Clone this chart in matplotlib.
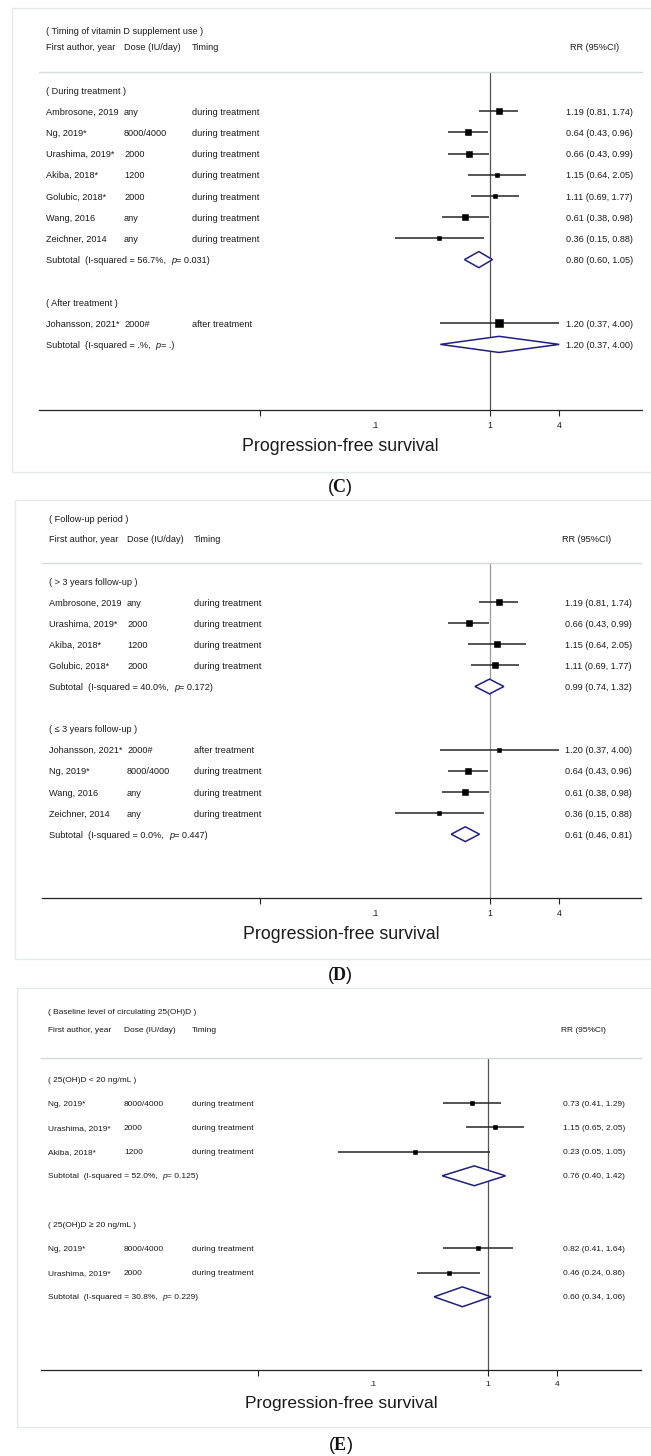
import matplotlib
matplotlib.use("Agg")
import matplotlib.pyplot as plt
from matplotlib import transforms as mtransforms
from matplotlib.patches import Rectangle, Polygon

plt.rcParams['font.family'] = ['Liberation Sans', 'DejaVu Sans']
plt.rcParams['mathtext.fontset'] = 'custom'
plt.rcParams['mathtext.bf'] = 'Liberation Serif:bold'
plt.rcParams['mathtext.rm'] = 'Liberation Serif'

W, H, DPI = 651, 1456, 100

# ---------------- Panel C: timing of vitamin D supplement use ----------------
c_title = "( Timing of vitamin D supplement use )"
c_groups = ["( During treatment )", "( After treatment )"]
c_authors = [["Ambrosone, 2019", "Ng, 2019*", "Urashima, 2019*", "Akiba, 2018*",
              "Golubic, 2018*", "Wang, 2016", "Zeichner, 2014"],
             ["Johansson, 2021*"]]
c_dose = [["any", "8000/4000", "2000", "1200", "2000", "any", "any"], ["2000#"]]
c_timing = [["during treatment"] * 7, ["after treatment"]]
c_rr = [[1.19, 0.64, 0.66, 1.15, 1.11, 0.61, 0.36], [1.20]]
c_lo = [[0.81, 0.43, 0.43, 0.64, 0.69, 0.38, 0.15], [0.37]]
c_hi = [[1.74, 0.96, 0.99, 2.05, 1.77, 0.98, 0.88], [4.00]]
c_weight = [[16.5, 16.0, 16.0, 11.0, 13.5, 15.0, 4.0], [100.0]]
c_sub_i2 = ["56.7", None]
c_sub_p = ["0.031", None]
c_sub_rr = [0.80, 1.20]
c_sub_lo = [0.60, 0.37]
c_sub_hi = [1.05, 4.00]

# ---------------- Panel D: follow-up period ----------------
d_title = "( Follow-up period )"
d_groups = ["( > 3 years follow-up )", "( \u2264 3 years follow-up )"]
d_authors = [["Ambrosone, 2019", "Urashima, 2019*", "Akiba, 2018*", "Golubic, 2018*"],
             ["Johansson, 2021*", "Ng, 2019*", "Wang, 2016", "Zeichner, 2014"]]
d_dose = [["any", "2000", "1200", "2000"], ["2000#", "8000/4000", "any", "any"]]
d_timing = [["during treatment"] * 4,
            ["after treatment", "during treatment", "during treatment", "during treatment"]]
d_rr = [[1.19, 0.66, 1.15, 1.11], [1.20, 0.64, 0.61, 0.36]]
d_lo = [[0.81, 0.43, 0.64, 0.69], [0.37, 0.43, 0.38, 0.15]]
d_hi = [[1.74, 0.99, 2.05, 1.77], [4.00, 0.96, 0.98, 0.88]]
d_weight = [[30.0, 28.0, 20.0, 23.0], [3.0, 48.0, 38.0, 5.0]]
d_sub_i2 = ["40.0", "0.0"]
d_sub_p = ["0.172", "0.447"]
d_sub_rr = [0.99, 0.61]
d_sub_lo = [0.74, 0.46]
d_sub_hi = [1.32, 0.81]

# ---------------- Panel E: baseline circulating 25(OH)D ----------------
e_title = "( Baseline level of circulating 25(OH)D )"
e_groups = ["( 25(OH)D < 20 ng/mL )", "( 25(OH)D \u2265 20 ng/mL )"]
e_authors = [["Ng, 2019*", "Urashima, 2019*", "Akiba, 2018*"],
             ["Ng, 2019*", "Urashima, 2019*"]]
e_dose = [["8000/4000", "2000", "1200"], ["8000/4000", "2000"]]
e_timing = [["during treatment"] * 3, ["during treatment"] * 2]
e_rr = [[0.73, 1.15, 0.23], [0.82, 0.46]]
e_lo = [[0.41, 0.65, 0.05], [0.41, 0.24]]
e_hi = [[1.29, 2.05, 1.05], [1.64, 0.86]]
e_weight = [[42.0, 40.0, 12.0], [48.0, 52.0]]
e_sub_i2 = ["52.0", "30.8"]
e_sub_p = ["0.125", "0.229"]
e_sub_rr = [0.76, 0.60]
e_sub_lo = [0.40, 0.34]
e_sub_hi = [1.42, 1.06]

header_cols = ["First author, year", "Dose (IU/day)", "Timing"]
rr_header = "RR (95%CI)"
x_ticks = [0.01, 0.1, 1, 4]
x_ticklabels = ["", ".1", "1", "4"]
x_label = "Progression-free survival"

fig = plt.figure(figsize=(W / DPI, H / DPI), dpi=DPI)
fig.patch.set_facecolor("white")

TXT = "#1a1a1a"
NAVY = "#1f1f80"


def fx(px):
    return px / W


def fy(py):
    return 1 - py / H


def panel(lay, title, groups, authors, dose, timing, rr, lo, hi, weight,
          s_i2, s_p, s_rr, s_lo, s_hi, letter):
    # light frame around the panel
    bx0, by0, bx1, by1 = lay["box"]
    fig.patches.append(Rectangle((fx(bx0), fy(by1)), fx(bx1 - bx0), (by1 - by0) / H,
                                 transform=fig.transFigure, fill=False,
                                 edgecolor="#e2eaea", lw=1.0))
    L, R, top, bot = lay["left"], lay["right"], lay["hline"], lay["axis"]
    ax = fig.add_axes([fx(L), fy(bot), (R - L) / W, (bot - top) / H])
    ax.set_xscale("log")
    x1, ppd = lay["x1"], lay["ppd"]
    ax.set_xlim(10 ** ((L - x1) / ppd), 10 ** ((R - x1) / ppd))
    r0, step = lay["row0"], lay["step"]
    ax.set_ylim((bot - r0) / step, (top - r0) / step)
    ax.patch.set_alpha(0)
    for s in ("left", "right"):
        ax.spines[s].set_visible(False)
    ax.spines["top"].set_color("#d6dada")
    ax.spines["top"].set_linewidth(1.0)
    ax.spines["bottom"].set_color("#222222")
    ax.spines["bottom"].set_linewidth(0.9)
    ax.set_yticks([])
    ax.set_xticks(x_ticks)
    ax.set_xticklabels(x_ticklabels)
    ax.xaxis.set_minor_locator(matplotlib.ticker.NullLocator())
    ax.tick_params(axis="x", direction="out", length=4, width=0.8, color="#222222",
                   labelsize=lay["tfs"], pad=4, labelcolor=TXT)
    ax.xaxis.get_major_ticks()[1].tick1line.set_visible(False)
    ax.set_xlabel(x_label, fontsize=lay["xfs"], color=TXT, labelpad=lay["xpad"])
    ax.axvline(1, color=lay["vcol"], lw=0.9, zorder=1)

    bt = mtransforms.blended_transform_factory(fig.transFigure, ax.transData)
    fs = lay["fs"]
    c1, c2, c3, c4 = lay["cols"]

    def row_of(py):
        return (py - r0) / step

    def put(x, y, s, **kw):
        return ax.text(fx(x), y, s, transform=bt, fontsize=fs, va="center_baseline",
                       color=TXT, clip_on=False, **kw)

    put(c1, row_of(lay["title_y"]), title)
    hy = row_of(lay["head_y"])
    for x, t in zip((c1, c2, c3), header_cols):
        put(x, hy, t)
    put(lay["rrh"], hy, rr_header)

    r = 0
    for g in range(len(groups)):
        put(c1, r, groups[g])
        r += 1
        for i in range(len(authors[g])):
            put(c1, r, authors[g][i])
            put(c2, r, dose[g][i])
            put(c3, r, timing[g][i])
            put(c4, r, f"{rr[g][i]:.2f} ({lo[g][i]:.2f}, {hi[g][i]:.2f})")
            ax.plot([lo[g][i], hi[g][i]], [r, r], color="#262626", lw=1.1,
                    solid_capstyle="butt", zorder=3)
            side_px = lay["bscale"] * weight[g][i] ** 0.25
            ax.plot([rr[g][i]], [r], marker="s", ms=side_px * 72 / DPI, color="black",
                    mec="black", mew=0.4, ls="none", zorder=4)
            ax.plot([rr[g][i]], [r], marker="o", ms=2.4, color="black", mew=0,
                    ls="none", zorder=5)
            r += 1
        i2 = s_i2[g] if s_i2[g] is not None else "."
        pv = s_p[g] if s_p[g] is not None else "."
        # subtotal caption with an italic p, built from chained pieces
        t0 = put(c1, r, f"Subtotal  (I-squared = {i2}%,  ")
        t1 = ax.annotate("p", xy=(1, 0), xycoords=t0, va="bottom", ha="left",
                         fontsize=fs, color=TXT, style="italic")
        ax.annotate(f"= {pv})", xy=(1, 0), xycoords=t1, va="bottom", ha="left",
                    fontsize=fs, color=TXT)
        put(c4, r, f"{s_rr[g]:.2f} ({s_lo[g]:.2f}, {s_hi[g]:.2f})")
        h = lay["dh"]
        ax.add_patch(Polygon([(s_lo[g], r), (s_rr[g], r - h), (s_hi[g], r), (s_rr[g], r + h)],
                             closed=True, facecolor="white", edgecolor=NAVY, lw=1.1,
                             zorder=4))
        r += 2

    fig.text(fx(340), fy(lay["label_y"]), rf"($\mathbf{{{letter}}}$)",
             fontsize=13, ha="center", va="center", color="#111111")


lay_c = dict(box=(12, 8, W + 3, 472), left=39, right=642, hline=72, axis=410,
             row0=90, step=21.2, x1=490, ppd=115, title_y=30, head_y=46,
             cols=(46, 124, 192, 566), rrh=570, fs=6.6, tfs=6.3, xfs=12.8, xpad=6,
             vcol="#555555", bscale=2.6, dh=0.38, label_y=488)
lay_d = dict(box=(15, 500, W + 3, 959), left=42, right=641, hline=563, axis=898,
             row0=581, step=21.1, x1=490, ppd=115, title_y=518, head_y=538,
             cols=(49, 127, 194, 565), rrh=562, fs=6.6, tfs=6.3, xfs=12.8, xpad=6,
             vcol="#9a9a9a", bscale=2.6, dh=0.35, label_y=975)
lay_e = dict(box=(17, 988, W + 3, 1427), left=41, right=641, hline=1058, axis=1370,
             row0=1079, step=24.2, x1=488, ppd=115, title_y=1012, head_y=1029,
             cols=(48, 124, 192, 563), rrh=561, fs=6.0, tfs=6.0, xfs=12.5, xpad=6,
             vcol="#555555", bscale=1.8, dh=0.41, label_y=1445)

panel(lay_c, c_title, c_groups, c_authors, c_dose, c_timing, c_rr, c_lo, c_hi, c_weight,
      c_sub_i2, c_sub_p, c_sub_rr, c_sub_lo, c_sub_hi, "C")
panel(lay_d, d_title, d_groups, d_authors, d_dose, d_timing, d_rr, d_lo, d_hi, d_weight,
      d_sub_i2, d_sub_p, d_sub_rr, d_sub_lo, d_sub_hi, "D")
panel(lay_e, e_title, e_groups, e_authors, e_dose, e_timing, e_rr, e_lo, e_hi, e_weight,
      e_sub_i2, e_sub_p, e_sub_rr, e_sub_lo, e_sub_hi, "E")

fig.savefig("out.png", dpi=DPI, facecolor="white")
